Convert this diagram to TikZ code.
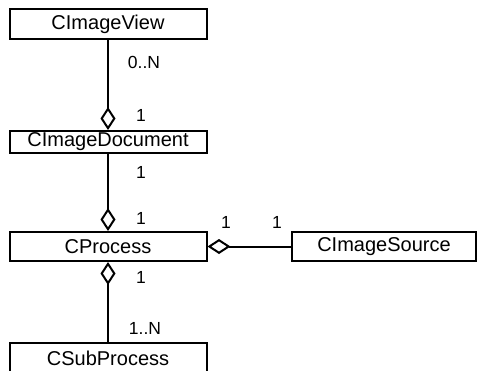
\documentclass[tikz,border=0pt]{standalone}
\usepackage{fontspec}
\setmainfont{Liberation Sans}
\usetikzlibrary{arrows.meta}

\begin{document}
\begin{tikzpicture}[x=1pt,y=-1pt,line width=2pt,
    cls/.style={draw,minimum width=197pt,inner sep=0pt,font=\fontsize{20}{23}\selectfont},
    mult/.style={font=\fontsize{17.5}{20}\selectfont,inner sep=0pt},
    agg/.style={{Diamond[open,length=23pt,width=15pt]}-}]
    \clip (0,0) rectangle (477,370);
    % classes
    \node[cls,minimum height=30pt] (view) at (108,24) {CImageView};
    \node[cls,minimum height=22pt] (doc) at (108,142) {CImageDocument};
    \node[cls,minimum height=29pt] (proc) at (108,246.5) {CProcess};
    \node[cls,minimum height=29pt,minimum width=184pt] (source) at (384,246.5) {CImageSource};
    % CSubProcess runs off the bottom edge
    \node[cls,minimum height=30pt] (sub) at (108,358) {CSubProcess};
    % aggregations
    \draw[agg,line width=2pt] (doc.north) -- (view.south);
    \draw[agg,line width=2pt] (proc.north) -- (doc.south);
    \draw[agg,line width=2pt] (proc.south) -- (sub.north);
    \draw[agg,line width=2pt] (proc.east) -- (source.west);
    % multiplicities
    \node[mult] (mview) at (144,62) {0..N};
    \node[mult] (mdoctop) at (141,115) {1};
    \node[mult] (mdocbot) at (141,172) {1};
    \node[mult] (mproctop) at (141,218) {1};
    \node[mult] (mprocbot) at (141,277) {1};
    \node[mult] (msub) at (145,328) {1..N};
    \node[mult] (mprocright) at (226,222) {1};
    \node[mult] (msource) at (277,222) {1};
\end{tikzpicture}
\end{document}
